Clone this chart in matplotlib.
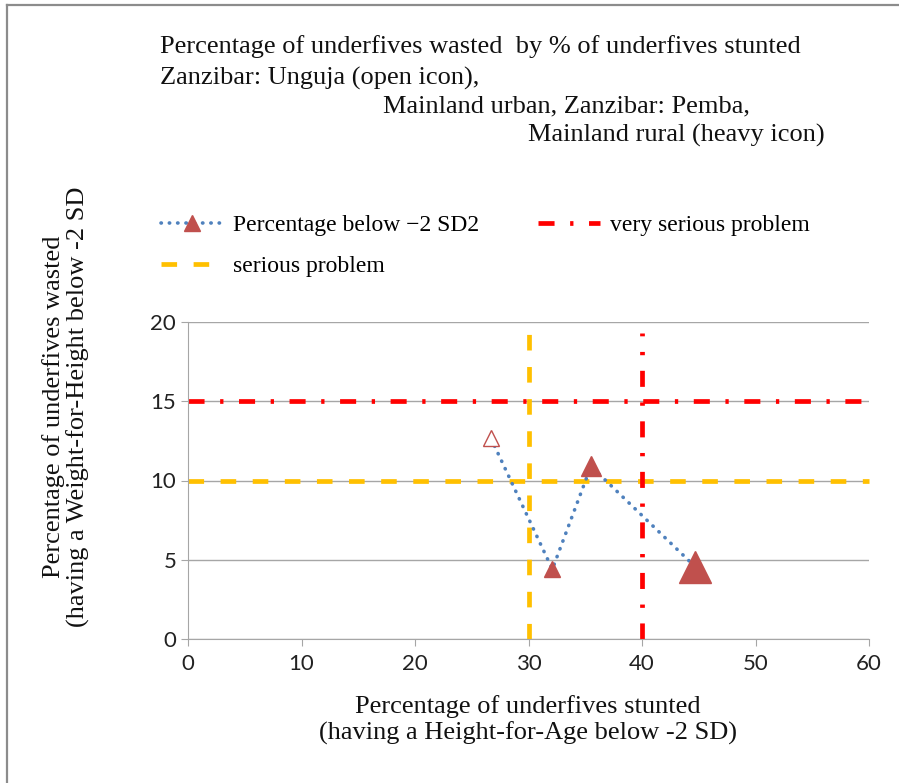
import matplotlib
matplotlib.use("Agg")
import matplotlib.pyplot as plt
from matplotlib.lines import Line2D

# stunted % (x) and wasted % (y) per region
regions = ["Zanzibar: Unguja", "Mainland urban", "Zanzibar: Pemba", "Mainland rural"]
stunted = [26.7, 32.1, 35.5, 44.7]
wasted = [12.65, 4.4, 10.9, 4.55]
marker_sizes = [12.0, 12.0, 14.5, 23.0]
open_marker = [True, False, False, False]

# WHO thresholds
serious_stunted, very_serious_stunted = 30, 40
serious_wasted, very_serious_wasted = 10, 15

serif = ["Liberation Serif", "DejaVu Serif"]
sans = ["Lato", "DejaVu Sans"]
red = "#FF0000"
yellow = "#FFC000"
blue = "#4F81BD"
mred = "#C0504D"
LW = 3.4
dashdot = (3.4, 3.3, 0.7, 3.3)
dashed = (3.3, 3.5)
dotted = (0, (0.1, 2.2))

fig = plt.figure(figsize=(8.99, 7.83), dpi=100)
W, H = 899, 783
ax = fig.add_axes([188 / W, 1 - 639 / H, (869 - 188) / W, (639 - 322) / H])

# partial frame (top and left edges visible in the original)
fig.add_artist(Line2D([7 / W, 1], [1 - 5 / H, 1 - 5 / H], transform=fig.transFigure,
                      color="#8C8C8C", lw=1.6))
fig.add_artist(Line2D([7 / W, 7 / W], [0, 1 - 5 / H], transform=fig.transFigure,
                      color="#8C8C8C", lw=1.6))

ax.set_xlim(0, 60)
ax.set_ylim(0, 20)
ax.set_xticks(range(0, 61, 10))
ax.set_yticks(range(0, 21, 5))
ax.grid(axis="y", color="#A6A6A6", linewidth=1.0)
ax.set_axisbelow(True)
for s in ["top", "right"]:
    ax.spines[s].set_visible(False)
for s in ["left", "bottom"]:
    ax.spines[s].set_color("#A6A6A6")
ax.tick_params(colors="#A6A6A6", length=5, labelcolor="#222222", labelsize=16)
ax.tick_params(axis="x", pad=6)
for lab in ax.get_xticklabels() + ax.get_yticklabels():
    lab.set_family(sans)

# threshold lines
ax.plot([0, 60], [very_serious_wasted] * 2, color=red, lw=LW,
        dashes=dashdot, clip_on=False)
ax.plot([0, 60], [serious_wasted] * 2, color=yellow, lw=LW,
        dashes=dashed, clip_on=False)
ax.plot([serious_stunted] * 2, [0, 20.2], color=yellow, lw=LW,
        dashes=dashed, clip_on=False)
ax.plot([very_serious_stunted] * 2, [0, 19.3], color=red, lw=LW,
        dashes=dashdot, clip_on=False)

# data series
ax.plot(stunted, wasted, color=blue, lw=2.6, linestyle=dotted,
        dash_capstyle="round", zorder=3)
for x, y, ms, op in zip(stunted, wasted, marker_sizes, open_marker):
    ax.plot([x], [y], marker="^", markersize=ms, linestyle="none",
            markerfacecolor="white" if op else mred,
            markeredgecolor=mred, markeredgewidth=1.0, zorder=4)

# legend
h_pct = Line2D([], [], color=blue, lw=2.6, linestyle=dotted,
               dash_capstyle="round", marker="^", markersize=12,
               markerfacecolor=mred, markeredgecolor=mred)
h_ser = Line2D([], [], color=yellow, lw=LW, dashes=dashed)
h_vs = Line2D([], [], color=red, lw=LW, dashes=dashdot)
fig.legend([h_pct, h_ser, h_vs],
           ["Percentage below \u22122 SD2", "serious problem", "very serious problem"],
           ncol=2, loc="upper left", bbox_to_anchor=(140 / W, 1 - 193 / H),
           frameon=False, prop={"family": serif, "size": 17},
           handlelength=2.6, handletextpad=0.45, columnspacing=2.5,
           labelspacing=0.85)

# title block
tkw = dict(family=serif, fontsize=19, va="center", ha="left", color="#111111")
fig.text(160 / W, 1 - 47 / H,
         "Percentage of underfives wasted  by % of underfives stunted", **tkw)
fig.text(160 / W, 1 - 78 / H, "Zanzibar: Unguja (open icon),", **tkw)
fig.text(383 / W, 1 - 106 / H, "Mainland urban, Zanzibar: Pemba,", **tkw)
fig.text(528 / W, 1 - 135 / H, "Mainland rural (heavy icon)", **tkw)

# axis titles
fig.text(528 / W, 1 - 720 / H,
         "Percentage of underfives stunted\n(having a Height-for-Age below -2 SD)",
         family=serif, fontsize=19, ha="center", va="center",
         linespacing=1.15, color="#111111")
fig.text(66 / W, 1 - 407 / H,
         "Percentage of underfives wasted\n(having a Weight-for-Height below -2 SD",
         family=serif, fontsize=19, ha="center", va="center", rotation=90,
         linespacing=1.1, color="#111111")

fig.savefig("out.png", dpi=100)
